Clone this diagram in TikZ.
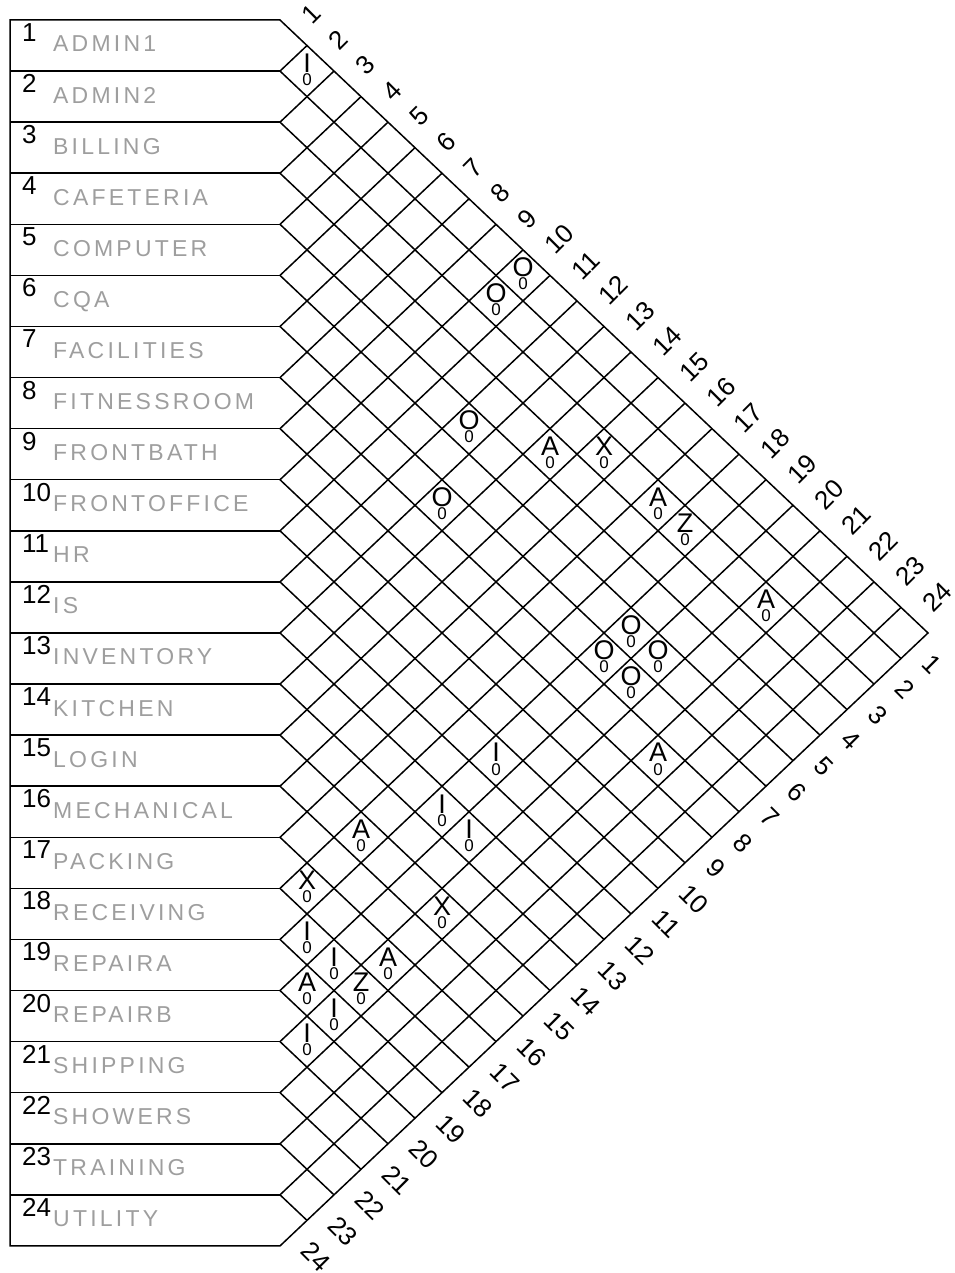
\documentclass[tikz,border=0pt]{standalone}
\usepackage{fontspec}
\setmainfont{Liberation Sans}
\newfontfamily\namefont[LetterSpace=14]{Liberation Sans}
\def\H{51.08}
\def\DX{27}
\def\DY{25.54}
\newcommand\relmark[3]{%
  \pgfmathsetmacro\cx{280+\DX*(#2-#1)}%
  \pgfmathsetmacro\cy{20+\DY*(#1+#2-1)}%
  \node[rel] (r#1-#2) at (\cx,\cy-8) {#3};%
  \node[relcode] (c#1-#2) at (\cx,\cy+8.5) {0};%
}
\begin{document}
\begin{tikzpicture}[x=1pt,y=-1pt,
  gridline/.style={line width=1.5pt, line join=miter},
  rownum/.style={anchor=base west, inner sep=0pt, font=\fontsize{26}{26}\selectfont},
  rowname/.style={anchor=base west, inner sep=0pt, text=black!38, font=\namefont\fontsize{23}{23}\selectfont},
  toplab/.style={anchor=west, inner sep=0pt, rotate=45, font=\fontsize{26}{26}\selectfont},
  botlab/.style={anchor=west, inner sep=0pt, rotate=-45, font=\fontsize{26}{26}\selectfont},
  rel/.style={inner sep=0pt, font=\fontsize{27}{27}\selectfont},
  relcode/.style={inner sep=0pt, font=\fontsize{17}{17}\selectfont}]
\useasboundingbox (0,0) rectangle (954,1273);
% outline
\draw[gridline] (10,20) -- (280,20) -- ({280+24*\DX},{20+24*\DY}) -- (280,{20+24*\H}) -- (10,{20+24*\H}) -- cycle;
% inner lines
\foreach \k in {1,...,23} {
  \pgfmathsetmacro\yy{20+\k*\H}
  \draw[gridline] (10,\yy) -- (280,\yy);
  \draw[gridline] (280,\yy) -- ++({(24-\k)*\DX},{(24-\k)*\DY});
  \draw[gridline] (280,\yy) -- ++({\k*\DX},{-\k*\DY});
}
% row numbers and names
\foreach \n [count=\i] in {ADMIN1,ADMIN2,BILLING,CAFETERIA,COMPUTER,CQA,FACILITIES,FITNESSROOM,FRONTBATH,FRONTOFFICE,HR,IS,INVENTORY,KITCHEN,LOGIN,MECHANICAL,PACKING,RECEIVING,REPAIRA,REPAIRB,SHIPPING,SHOWERS,TRAINING,UTILITY} {
  \pgfmathsetmacro\yt{20+(\i-1)*\H}
  \node[rownum] (num\i) at (22,\yt+21.5) {\i};
  \node[rowname] (name\i) at (53,\yt+32) {\n};
}
% diagonal labels
\foreach \i in {1,...,24} {
  \pgfmathsetmacro\mx{280+\DX*(\i-0.5)+12.4}
  \pgfmathsetmacro\my{20+\DY*(\i-0.5)-13.1}
  \node[toplab] (top\i) at (\mx,\my) {\i};
  \pgfmathsetmacro\bx{280+24*\DX-\DX*(\i-0.5)+12.4}
  \pgfmathsetmacro\by{20+24*\DY+\DY*(\i-0.5)+13.1}
  \node[botlab] (bot\i) at (\bx,\by) {\i};
}
% relationships
\relmark{1}{2}{I}
\relmark{1}{10}{O}
\relmark{2}{10}{O}
\relmark{5}{12}{O}
\relmark{4}{14}{A}
\relmark{3}{15}{X}
\relmark{7}{13}{O}
\relmark{3}{17}{A}
\relmark{3}{18}{Z}
\relmark{3}{21}{A}
\relmark{6}{19}{O}
\relmark{7}{19}{O}
\relmark{6}{20}{O}
\relmark{7}{20}{O}
\relmark{8}{22}{A}
\relmark{11}{19}{I}
\relmark{13}{19}{I}
\relmark{15}{18}{A}
\relmark{13}{20}{I}
\relmark{17}{18}{X}
\relmark{15}{21}{X}
\relmark{18}{19}{I}
\relmark{18}{20}{I}
\relmark{17}{21}{A}
\relmark{19}{20}{A}
\relmark{18}{21}{Z}
\relmark{19}{21}{I}
\relmark{20}{21}{I}
\end{tikzpicture}
\end{document}
